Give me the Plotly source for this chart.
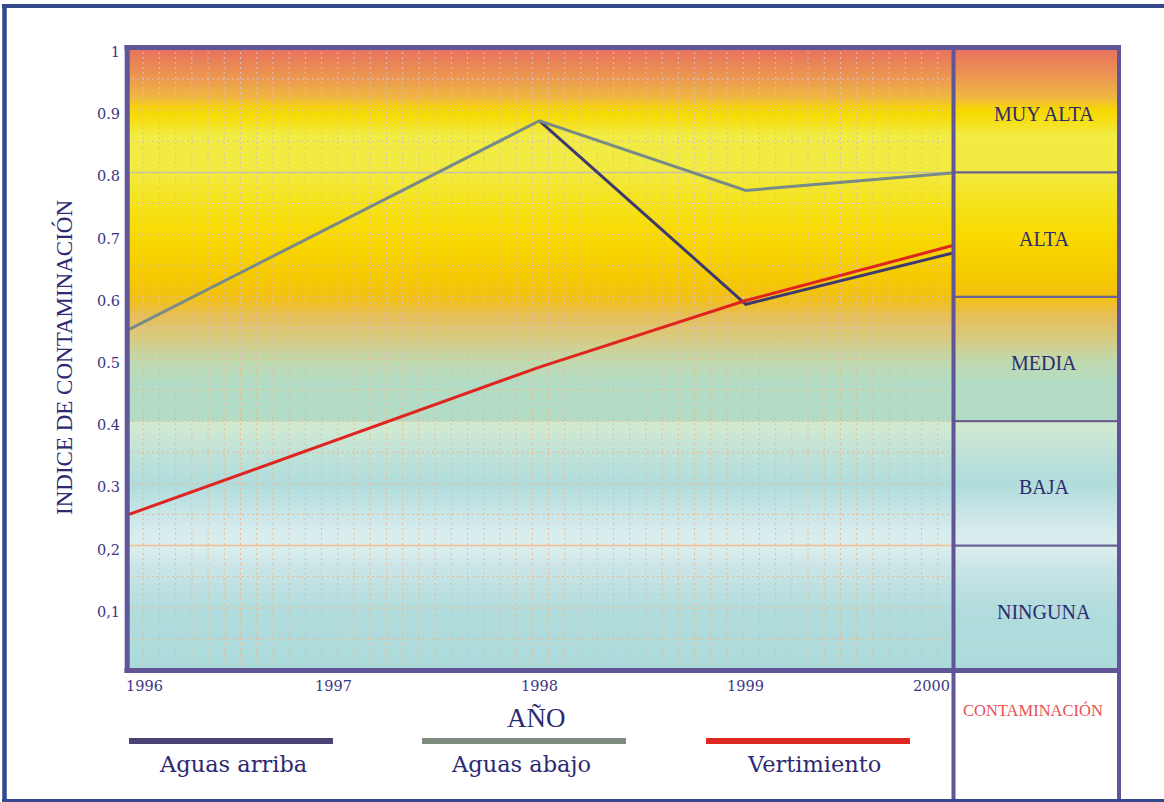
import plotly.graph_objects as go
import numpy as np

# ---------------- data ----------------
years = [1996, 1998, 1999, 2000]
aguas_arriba = [None, 0.883, 0.588, 0.670]
aguas_abajo = [0.546, 0.883, 0.771, 0.799]
vertimiento = [0.249, 0.487, 0.594, 0.682]

series_names = ["Aguas arriba", "Aguas abajo", "Vertimiento"]
series_values = [aguas_arriba, aguas_abajo, vertimiento]
line_colors = ["#3E3A70", "#788A88", "#E02420"]
legend_colors = ["#4A4272", "#7E8C80", "#DC2820"]

x_tick_vals = [1996, 1997, 1998, 1999, 2000]
x_tick_text = ["1996", "1997", "1998", "1999", "2000"]
y_tick_vals = [0.1, 0.2, 0.3, 0.4, 0.5, 0.6, 0.7, 0.8, 0.9, 1.0]
y_tick_text = ["0,1", "0,2", "0.3", "0.4", "0.5", "0.6", "0.7", "0.8", "0.9", "1"]

levels = ["NINGUNA", "BAJA", "MEDIA", "ALTA", "MUY ALTA"]
level_bounds = [0.0, 0.2, 0.4, 0.6, 0.8, 1.0]

# background gradient (value -> colour)
gradient = [
    (0.000, "#ACDADA"), (0.100, "#B2DCDD"), (0.170, "#CCE6E8"), (0.200, "#DCEEEE"),
    (0.230, "#D4EAEC"), (0.300, "#B0DCDC"), (0.350, "#C0E2D8"), (0.399, "#D4EAD0"),
    (0.401, "#B2DCC6"), (0.460, "#B2DCC6"), (0.500, "#C2D8AC"), (0.530, "#D6CC84"),
    (0.570, "#E6BE58"), (0.600, "#F2C010"), (0.640, "#F6CC00"), (0.700, "#F8DA00"),
    (0.760, "#F4E420"), (0.800, "#F2EA40"), (0.860, "#F2EC44"), (0.885, "#F6DE10"),
    (0.900, "#F6D800"), (0.920, "#F0B840"), (0.950, "#EC9A50"), (1.000, "#E8705E"),
]

W, H = 1164, 802
def px(x):
    return x / W
def py(y):
    return 1 - y / H

BORDER = "#5F5597"
TEXT = "#3A3584"
SERIF = "DejaVu Serif"
TIMES = "Liberation Serif"

fig = go.Figure()

# gradient background: main plot and side panel
grid_y = np.round(np.arange(0, 1.00001, 0.0025), 4)
zc = [[v, v] for v in grid_y]
cs = [[s, c] for s, c in gradient]
fig.add_trace(go.Heatmap(x=[1996, 2000], y=grid_y, z=zc, colorscale=cs, zmin=0, zmax=1,
                         showscale=False, hoverinfo="skip", xaxis="x", yaxis="y"))
fig.add_trace(go.Heatmap(x=[0, 1], y=grid_y, z=zc, colorscale=cs, zmin=0, zmax=1,
                         showscale=False, hoverinfo="skip", xaxis="x2", yaxis="y"))

# dotted grid (drawn as line traces so they sit above the gradient, below data)
n_div = 51
x_span = 4 * (827 / 825)
vx = [1996 + k * x_span / n_div for k in range(1, n_div)]
up_x, up_y, lo_x, lo_y = [], [], [], []
for v in vx:
    up_x += [v, v, None]; up_y += [0.5, 1.0, None]
    lo_x += [v, v, None]; lo_y += [0.0, 0.5, None]
for k in range(1, 20):
    yv = k * 0.05
    if abs(yv - 0.8) < 1e-6 or abs(yv - 0.2) < 1e-6:
        continue
    if yv > 0.5:
        up_x += [1996, 2000, None]; up_y += [yv, yv, None]
    else:
        lo_x += [1996, 2000, None]; lo_y += [yv, yv, None]
fig.add_trace(go.Scatter(x=up_x, y=up_y, mode="lines", hoverinfo="skip", showlegend=False,
                         line=dict(color="#D9BCCB", width=1, dash="2px,3px")))
fig.add_trace(go.Scatter(x=lo_x, y=lo_y, mode="lines", hoverinfo="skip", showlegend=False,
                         line=dict(color="#F0B888", width=1, dash="2px,3px")))
fig.add_trace(go.Scatter(x=[1996, 2000], y=[0.8, 0.8], mode="lines", hoverinfo="skip",
                         showlegend=False, line=dict(color="#CBC2A6", width=1.5)))
fig.add_trace(go.Scatter(x=[1996, 2000], y=[0.2, 0.2], mode="lines", hoverinfo="skip",
                         showlegend=False, line=dict(color="#F0C090", width=1.5)))

# data lines
for name, vals, col in zip(series_names, series_values, line_colors):
    fig.add_trace(go.Scatter(x=years, y=vals, mode="lines", name=name, showlegend=False,
                             connectgaps=False, line=dict(color=col, width=3)))

shapes = []
# panel separators
for b in level_bounds[1:-1]:
    shapes.append(dict(type="line", xref="x2", yref="y", x0=0, x1=1, y0=b, y1=b,
                       line=dict(color="#6A6294", width=2.2)))
# borders
def pline(x0, y0, x1, y1, color=BORDER, width=5):
    shapes.append(dict(type="line", xref="paper", yref="paper",
                       x0=px(x0), x1=px(x1), y0=py(y0), y1=py(y1),
                       line=dict(color=color, width=width)))
pline(124.5, 47.5, 1121, 47.5)          # top
pline(124.5, 670.5, 1121, 670.5)        # bottom of plot
pline(127.2, 45, 127.2, 673)            # left
pline(953.5, 45, 953.5, 802, width=4)   # middle
pline(1119, 45, 1119, 802, width=4)     # right of panel
# outer blue frame
pline(4.5, 4, 4.5, 802, color="#34488E", width=4.5)
pline(2, 6, W, 6, color="#34488E", width=4)
pline(2, 800.5, W, 800.5, color="#34488E", width=3)

annotations = []
def ann(**kw):
    kw.setdefault("xanchor", "center")
    kw.setdefault("yanchor", "middle")
    kw.setdefault("showarrow", False)
    annotations.append(kw)

# level labels in side panel
for i, lab in enumerate(levels):
    mid = (level_bounds[i] + level_bounds[i + 1]) / 2
    ann(xref="paper", yref="y", x=px(1044), y=mid, yshift=-4, text=lab,
        font=dict(family=TIMES, size=20, color="#2E2A6E"))
ann(xref="paper", yref="paper", x=px(1033), y=py(710), text="CONTAMINACIÓN",
    font=dict(family=TIMES, size=16.5, color="#E85050"))
# x tick labels
for v, t in zip(x_tick_vals, x_tick_text):
    anchor = "left" if v == x_tick_vals[0] else ("right" if v == x_tick_vals[-1] else "center")
    shift = -3 if v == x_tick_vals[0] else 0
    ann(xref="x", yref="paper", x=v, y=py(686), text=t, xanchor=anchor, xshift=shift,
        font=dict(family=SERIF, size=14.5, color=TEXT))
# axis titles
ann(xref="paper", yref="paper", x=px(536), y=py(718), text="AÑO",
    font=dict(family=TIMES, size=27, color="#2E2A72"))
ann(xref="paper", yref="paper", x=px(64), y=py(358), text="INDICE DE CONTAMINACIÓN",
    textangle=-90, font=dict(family=TIMES, size=23, color="#2E2A72"))
# custom legend: line above label
legend_line_centers = [231, 524, 808]
legend_text_centers = [233, 521, 814]
for name, col, cx, tx in zip(series_names, legend_colors, legend_line_centers, legend_text_centers):
    pline(cx - 102, 741, cx + 102, 741, color=col, width=6)
    ann(xref="paper", yref="paper", x=px(tx), y=py(764), text=name,
        font=dict(family=SERIF, size=22.5, color="#2E2A72"))

fig.update_layout(
    width=W, height=H, margin=dict(l=0, r=0, t=0, b=0, pad=0, autoexpand=False),
    paper_bgcolor="white", plot_bgcolor="white", showlegend=False,
    xaxis=dict(domain=[px(127), px(952)], range=[1996, 2000], showgrid=False,
               zeroline=False, showticklabels=False, showline=False, ticks="",
               automargin=False),
    xaxis2=dict(domain=[px(955), px(1118)], range=[0, 1], anchor="y", showgrid=False,
                zeroline=False, showticklabels=False, showline=False, ticks="",
                automargin=False),
    yaxis=dict(domain=[py(670), py(48)], range=[0, 1], showgrid=False, zeroline=False,
               showline=False, ticks="", tickvals=y_tick_vals, ticktext=y_tick_text,
               tickfont=dict(family=SERIF, size=14.5, color=TEXT), automargin=False,
               ticklabelshift=4, ticklabelstandoff=6),
    shapes=shapes, annotations=annotations,
)

fig.write_html("out.html")
